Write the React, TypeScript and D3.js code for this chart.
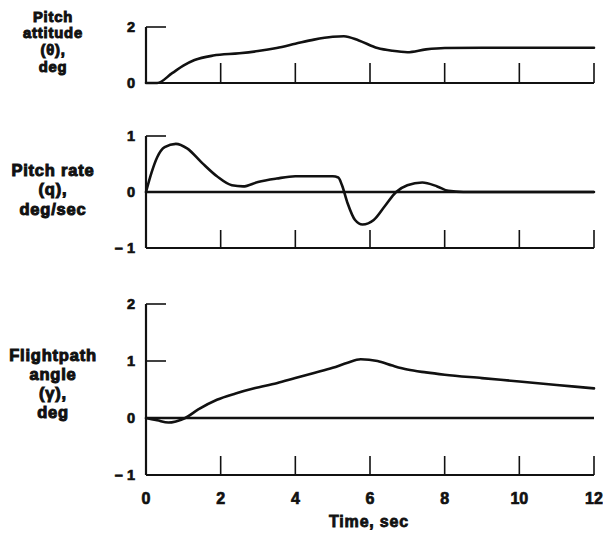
import React from "react";
import * as d3 from "d3";

// time history (sec)
const timeTicks = [2, 4, 6, 8, 10, 12];
const timeTickLabels = ["0", "2", "4", "6", "8", "10", "12"];

const thetaT = [0, 0.3, 0.7, 1.0, 1.3, 1.8, 2.5, 3.0, 3.5, 4.0, 4.5, 5.0, 5.3, 5.7, 6.2, 6.6, 7.0, 7.5, 8.0, 9.0, 10, 12];
const thetaV = [0, 0, 0.35, 0.62, 0.82, 0.98, 1.06, 1.14, 1.25, 1.4, 1.55, 1.65, 1.67, 1.52, 1.25, 1.15, 1.1, 1.2, 1.25, 1.26, 1.26, 1.26];

const qT = [0, 0.15, 0.3, 0.5, 0.8, 1.1, 1.5, 1.9, 2.3, 2.6, 3.0, 3.5, 4.0, 4.5, 5.0, 5.15, 5.25, 5.4, 5.6, 5.8, 6.1, 6.4, 6.7, 7.0, 7.4, 7.8, 8.1, 8.5, 12];
const qV = [0, 0.35, 0.62, 0.8, 0.86, 0.78, 0.52, 0.28, 0.12, 0.1, 0.18, 0.24, 0.28, 0.28, 0.28, 0.26, 0.12, -0.2, -0.5, -0.58, -0.5, -0.25, 0, 0.12, 0.17, 0.1, 0.02, 0, 0];

const gammaT = [0, 0.3, 0.6, 0.8, 1.05, 1.4, 1.9, 2.4, 2.9, 3.5, 4.0, 4.5, 5.0, 5.4, 5.75, 6.2, 6.6, 7.0, 7.5, 8, 9, 10, 11, 12];
const gammaV = [0, -0.04, -0.08, -0.06, 0, 0.15, 0.32, 0.43, 0.52, 0.61, 0.7, 0.79, 0.88, 0.97, 1.03, 1.0, 0.92, 0.85, 0.8, 0.76, 0.7, 0.64, 0.58, 0.52];

const panels = [
  { label: ["Pitch", "attitude", "(θ),", "deg"], domain: [0, 2], range: [83, 27], ticks: [0, 2], stubs: [2], zero: false, t: thetaT, v: thetaV, labelY: 16.5, lineH: 16.8, labelSize: 14.8, tickH: 20 },
  { label: ["Pitch rate", "(q),", "deg/sec"], domain: [-1, 1], range: [248, 136], ticks: [-1, 0, 1], stubs: [1], zero: true, t: qT, v: qV, labelY: 170, lineH: 19.5, labelSize: 16.5, tickH: 18 },
  { label: ["Flightpath", "angle", "(γ),", "deg"], domain: [-1, 2], range: [475, 304], ticks: [-1, 0, 1, 2], stubs: [1, 2], zero: true, t: gammaT, v: gammaV, labelY: 355, lineH: 19, labelSize: 16.5, tickH: 19 },
];

const ink = "#111";
const font = "'Liberation Sans', Arial, sans-serif";

export default function App() {
  const x = d3.scaleLinear().domain([0, 12]).range([146, 594]);

  return (
    <svg width={603} height={533} style={{ position: "absolute", left: 0, top: 0, background: "#fff" }} fontFamily={font}>
      {panels.map((p, i) => {
        const y = d3.scaleLinear().domain(p.domain).range(p.range);
        const line = d3
          .line<number>()
          .x((_, k) => x(p.t[k]))
          .y((d) => y(d))
          .curve(d3.curveMonotoneX);
        const yBottom = y(p.domain[0]);
        const yTop = y(p.domain[1]);
        return (
          <g key={i}>
            {p.label.map((s, k) => (
              <text key={k} x={53} y={p.labelY + k * p.lineH} dy="0.35em" textAnchor="middle" fontSize={p.labelSize} fontWeight="bold"
                fill={ink} stroke={ink} strokeWidth={1} letterSpacing={0.8}>
                {s}
              </text>
            ))}
            {p.ticks.map((t) => (
              <text key={t} x={135} y={y(t)} dy="0.36em" textAnchor="end" fontSize={14.5} fontWeight="bold" fill={ink} stroke={ink} strokeWidth={0.7}>
                {t < 0 ? "\u2013 " + Math.abs(t) : String(t)}
              </text>
            ))}
            <line x1={x(0)} x2={x(0)} y1={yTop} y2={yBottom} stroke={ink} strokeWidth={2.2} />
            <line x1={x(0)} x2={x(12)} y1={yBottom} y2={yBottom} stroke={ink} strokeWidth={2} />
            {p.stubs.map((s) => (
              <line key={s} x1={x(0)} x2={x(0) + 20} y1={y(s)} y2={y(s)} stroke={ink} strokeWidth={1.6} />
            ))}
            {timeTicks.map((t) => (
              <line key={t} x1={x(t)} x2={x(t)} y1={yBottom} y2={yBottom - p.tickH} stroke={ink} strokeWidth={1.6} />
            ))}
            {p.zero && <line x1={x(0)} x2={x(12)} y1={y(0)} y2={y(0)} stroke={ink} strokeWidth={2.4} />}
            <path d={line(p.v) || ""} fill="none" stroke={ink} strokeWidth={2.6} strokeLinejoin="round" strokeLinecap="round" />
          </g>
        );
      })}
      {timeTickLabels.map((s, k) => (
        <text key={s} x={x(k * 2)} y={498} dy="0.36em" textAnchor="middle" fontSize={16} fontWeight="bold" fill={ink} stroke={ink} strokeWidth={0.7}>
          {s}
        </text>
      ))}
      <text x={369} y={521} dy="0.36em" textAnchor="middle" fontSize={16} fontWeight="bold" fill={ink} stroke={ink} strokeWidth={0.8} letterSpacing={0.8}>
        Time, sec
      </text>
    </svg>
  );
}
